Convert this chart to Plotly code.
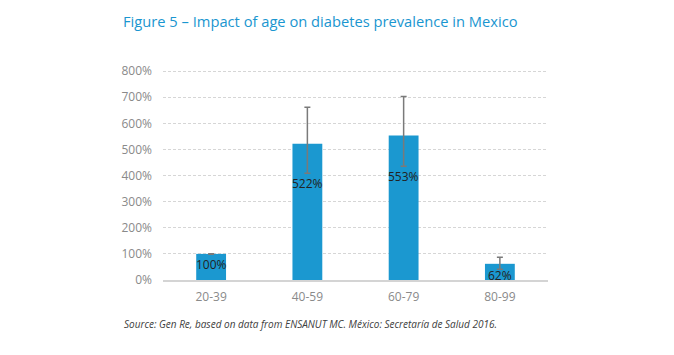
import plotly.graph_objects as go

categories = ["20-39", "40-59", "60-79", "80-99"]
values = [100, 522, 553, 62]
err_plus = [1, 140, 150, 25]
err_minus = [1, 113, 117, 21]
labels = ["100%", "522%", "553%", "62%"]
tick_vals = [0, 100, 200, 300, 400, 500, 600, 700, 800]
tick_text = [f"{v}%" for v in tick_vals]

W, H = 666, 347
ML, MR, MT, MB = 155, 126, 61, 75
y_max = 808
units_per_px = y_max / (H - MT - MB)

fig = go.Figure()
fig.add_trace(go.Bar(
    x=categories, y=values,
    marker=dict(color="#1b98d0", line=dict(width=0)),
    error_y=dict(type="data", symmetric=False, array=err_plus, arrayminus=err_minus,
                 color="#7a7a7a", thickness=1.5, width=3),
    hoverinfo="x+y",
))

for c, v, m, t in zip(categories, values, err_minus, labels):
    ly = max(v - m - 10 * units_per_px, 5 * units_per_px)
    fig.add_annotation(x=c, y=ly, text=t, showarrow=False, yanchor="middle",
                       font=dict(family="Open Sans", size=12, color="#222222"))

fig.add_annotation(
    xref="paper", yref="paper", x=-0.106, y=-0.207, xanchor="left", yanchor="middle",
    text="<i>Source: Gen Re, based on data from ENSANUT MC. México: Secretaría de Salud 2016.</i>",
    showarrow=False, font=dict(family="Open Sans", size=10, color="#404040"))

fig.update_layout(
    width=W, height=H,
    margin=dict(l=ML, r=MR, t=MT, b=MB),
    paper_bgcolor="white", plot_bgcolor="white",
    bargap=0.69,
    showlegend=False,
    title=dict(text="Figure 5 – Impact of age on diabetes prevalence in Mexico",
               x=115/W, xanchor="left", xref="container",
               y=1 - 14/H, yanchor="middle", yref="container",
               font=dict(family="Open Sans", size=14.7, color="#1a96d0")),
    xaxis=dict(showgrid=False, showline=True, linecolor="#d4d4d4", linewidth=1.5,
               ticks="", ticklabelstandoff=5,
               tickfont=dict(family="Open Sans", size=12, color="#8a8a8a")),
    yaxis=dict(range=[0, y_max], tickvals=tick_vals, ticktext=tick_text,
               showgrid=True, gridcolor="#d6d6d6", griddash="3px,2px", gridwidth=1,
               zeroline=False, showline=False, ticks="", ticklabelstandoff=10,
               tickfont=dict(family="Open Sans", size=12, color="#8a8a8a")),
)

fig.write_html("out.html")
